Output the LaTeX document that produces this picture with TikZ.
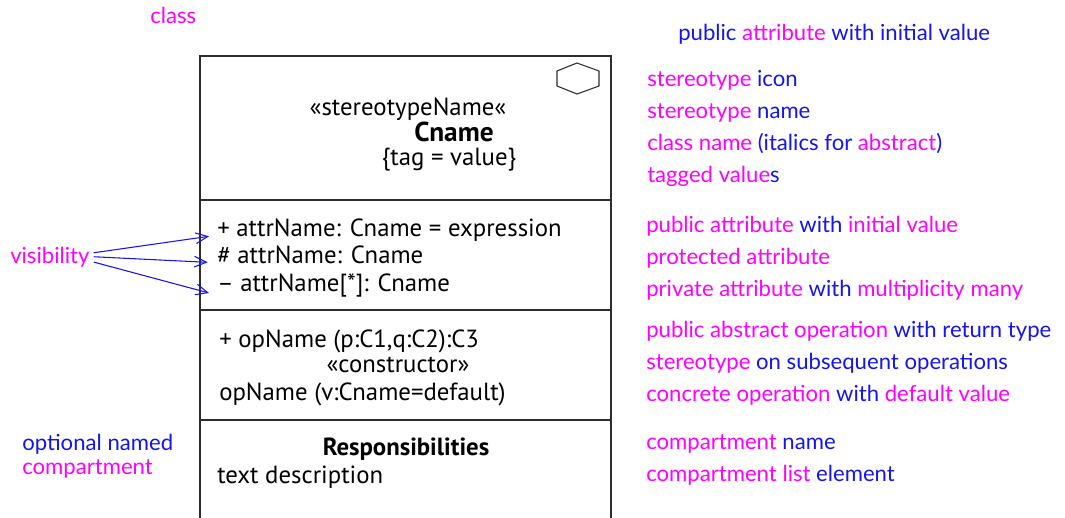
\documentclass[tikz,border=0pt]{standalone}
\usepackage{fontspec}
\setmainfont{PT Sans}
\newfontfamily\notefont{Lato}
\usetikzlibrary{arrows.meta,positioning}
\definecolor{notepink}{RGB}{255,0,255}
\definecolor{noteblue}{RGB}{20,20,235}
\definecolor{frameink}{RGB}{45,45,45}
\newcommand\pk[1]{\textcolor{notepink}{#1}}
\newcommand\bl[1]{\textcolor{noteblue}{#1}}
\tikzset{
  >={Straight Barb[length=9pt,width=8pt]},
  frame/.style={draw=frameink,line width=1.1pt},
  member/.style={anchor=base west,inner sep=0pt,font=\fontsize{18.6}{22}\selectfont},
  centred/.style={anchor=base,inner sep=0pt,font=\fontsize{18.6}{22}\selectfont},
  note/.style={anchor=base west,inner sep=0pt,font=\notefont\fontsize{16.6}{20}\selectfont},
  pointer/.style={->,draw=noteblue,line width=0.8pt},
}
\begin{document}
\begin{tikzpicture}[x=0.75pt,y=-0.75pt]
  \useasboundingbox (0,0) rectangle (1065,518);
  % class box, open at the bottom
  \draw[frame] (200,518) -- (200,56) -- (611,56) -- (611,518);
  \draw[frame] (200,200) -- (611,200);
  \draw[frame] (200,310) -- (611,310);
  \draw[frame] (200,420) -- (611,420);
  % stereotype icon
  \draw[frameink,line width=0.8pt] (577,63) -- (599,71) -- (599,86) -- (577,94) -- (557,86) -- (557,71) -- cycle;

  % name compartment
  \node[centred] (stereo) at (408,115) {«stereotypeName«};
  \node[centred,font=\fontsize{20.5}{24}\selectfont\bfseries] (cname) at (454,141) {Cname};
  \node[centred] (tag) at (449,165) {\{tag = value\}};
  % attributes
  \node[member] (attrA) at (217,236) {+ attrName: Cname = expression};
  \node[member] (attrB) at (217,263) {\# attrName: Cname};
  \node[member] (attrC) at (217,291) {– attrName[*]: Cname};
  % operations
  \node[member] (opA) at (219,347) {+ opName (p:C1,q:C2):C3};
  \node[centred] (ctor) at (398,372) {«constructor»};
  \node[member] (opB) at (219,400) {opName (v:Cname=default)};
  % responsibilities
  \node[centred,font=\fontsize{18.6}{22}\selectfont\bfseries] (resp) at (406,455) {Responsibilities};
  \node[member] (descr) at (217,483) {text description};

  % left notes
  \node[note] (cls) at (150,23) {\pk{class}};
  \node[note] (vis) at (10,263) {\pk{visibility}};
  \node[note] (optA) at (22,450) {\bl{optional named}};
  \node[note] (optB) at (22,474) {\pk{compartment}};
  \draw[pointer] ([yshift=3pt]vis.east) ++(4,0) -- ([xshift=-6pt,yshift=-5pt]attrA.west);
  \draw[pointer] ([yshift=0pt]vis.east) ++(4,0) -- ([xshift=-7pt,yshift=-6pt]attrB.west);
  \draw[pointer] ([yshift=-4pt]vis.east) ++(4,0) -- ([xshift=-6pt,yshift=-6pt]attrC.west);

  % right notes
  \node[note] (nTop) at (678,40) {\bl{public} \pk{attribute} \bl{with initial value}};
  \node[note] (nIcon) at (647,86) {\pk{stereotype} \bl{icon}};
  \node[note] (nStereo) at (647,118) {\pk{stereotype} \bl{name}};
  \node[note] (nName) at (647,150) {\pk{class name} \bl{(italics for} \pk{abstract}\bl{)}};
  \node[note] (nTag) at (647,182) {\pk{tagged value}\bl{s}};
  \node[note] (nPub) at (646,232) {\pk{public attribute} \bl{with} \pk{initial value}};
  \node[note] (nProt) at (646,264) {\pk{protected attribute}};
  \node[note] (nPriv) at (646,296) {\pk{private attribute} \bl{with} \pk{multiplicity many}};
  \node[note] (nAbs) at (646,337) {\pk{public abstract operation} \bl{with return type}};
  \node[note] (nOnSub) at (646,369) {\pk{stereotype} \bl{on subsequent operations}};
  \node[note] (nConc) at (646,401) {\pk{concrete operation} \bl{with} \pk{default value}};
  \node[note] (nComp) at (646,449) {\pk{compartment} \bl{name}};
  \node[note] (nList) at (646,481) {\pk{compartment list} \bl{element}};
\end{tikzpicture}
\end{document}
